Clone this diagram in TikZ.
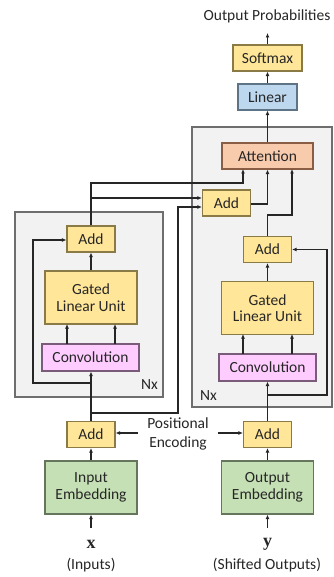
\documentclass[tikz,border=0pt]{standalone}
\usepackage{fontspec}
\setmainfont{Carlito}
\newfontfamily\serifb{Liberation Serif}
\usetikzlibrary{arrows.meta}
\definecolor{addfill}{HTML}{FFE699}
\definecolor{addline}{HTML}{8A7A45}
\definecolor{convfill}{HTML}{FFCCFF}
\definecolor{convline}{HTML}{7A5C7A}
\definecolor{embfill}{HTML}{C5E0B4}
\definecolor{embline}{HTML}{66765C}
\definecolor{attfill}{HTML}{F8CBAD}
\definecolor{attline}{HTML}{8A5E45}
\definecolor{linfill}{HTML}{BDD7EE}
\definecolor{linline}{HTML}{5F7386}
\definecolor{stackfill}{HTML}{F2F2F2}
\definecolor{stackline}{HTML}{6E6E6E}
\definecolor{ink}{HTML}{262626}
\begin{document}
\begin{tikzpicture}[x=1pt,y=-1pt,
  font=\fontsize{15.5}{17.5}\selectfont, text=ink,
  blk/.style={draw, line width=1.1pt, inner sep=0pt, align=center},
  addbox/.style={blk, fill=addfill, draw=addline, minimum width=48pt, minimum height=26pt},
  glubox/.style={blk, fill=addfill, draw=addline, minimum width=92pt, minimum height=53pt},
  convbox/.style={blk, fill=convfill, draw=convline, minimum width=97pt, minimum height=27pt},
  embbox/.style={blk, fill=embfill, draw=embline, minimum width=92pt, minimum height=53pt},
  attbox/.style={blk, fill=attfill, draw=attline, minimum width=91pt, minimum height=26pt},
  stack/.style={fill=stackfill, draw=stackline, line width=1.1pt},
  wire/.style={draw=black!85, line width=1.2pt},
  arr/.style={wire, -{Latex[length=4.5pt,width=4pt]}}
]
\useasboundingbox (0,0) rectangle (333,577);

% repeated stacks (drawn first, wires pass over them)
\path[stack] (15,212) rectangle (163,397);
\path[stack] (192,127) rectangle (332,407);
\node[anchor=south east, inner sep=0pt] (nxe) at (158,390) {Nx};
\node[anchor=south west, inner sep=0pt] (nxd) at (200,401) {Nx};

% encoder side
\node[embbox] (inemb) at (91,487.5) {Input\\[-1pt]Embedding};
\node[addbox] (eadd0) at (91,434.5) {Add};
\node[convbox] (econv) at (90.5,357.5) {Convolution};
\node[glubox] (eglu) at (91,297.5) {Gated\\[-1pt]Linear Unit};
\node[addbox] (eadd) at (91,239) {Add};
\node[inner sep=0pt] (xlab) at (91,544) {\fontsize{18}{18}\selectfont\serifb\bfseries x};
\node[inner sep=0pt] (xcap) at (91,565) {(Inputs)};
\coordinate (xin) at (91,528);

% decoder side
\node[embbox] (outemb) at (267.5,487.5) {Output\\[-1pt]Embedding};
\node[addbox] (dadd0) at (267.5,434.5) {Add};
\node[convbox] (dconv) at (267.5,367.5) {Convolution};
\node[glubox] (dglu) at (267.5,308) {Gated\\[-1pt]Linear Unit};
\node[addbox] (dadd) at (267.5,249.5) {Add};
\node[addbox] (madd) at (226.5,203) {Add};
\node[attbox] (att) at (267.5,156) {Attention};
\node[blk, fill=linfill, draw=linline, minimum width=59pt, minimum height=26pt] (lin) at (267.5,97) {Linear};
\node[addbox, minimum width=69pt] (soft) at (267.5,58) {Softmax};
\node[inner sep=0pt] (outp) at (267,16) {Output Probabilities};
\coordinate (pout) at (267.5,33);
\node[inner sep=0pt] (ylab) at (267.5,544) {\fontsize{18}{18}\selectfont\serifb\bfseries y};
\node[inner sep=0pt] (ycap) at (267,565) {(Shifted Outputs)};
\coordinate (yin) at (267.5,528);

% positional encoding
\node[align=center, inner sep=0pt] (pos) at (178,434) {Positional\\[1pt]Encoding};
\coordinate (posl) at (138,433);
\coordinate (posr) at (218,433);

% encoder wiring
\draw[arr] (xin) -- (inemb.south);
\draw[arr] (inemb.north) -- (eadd0.south);
\draw[arr] (posl) -- (eadd0.east |- posl);
\draw[arr] (eadd0.north) -- (econv.south -| eadd0.north);
\draw[arr] (91,383) -- (33,383) -- (33,240) -- (eadd.west |- 0,240);
\draw[arr] (67,344) -- (67,324);
\draw[arr] (115,344) -- (115,324);
\draw[arr] (eglu.north) -- (eadd.south);
\draw[arr] (eadd.north) -- (91,183) -- (243,183) -- (243,169);
\draw[arr] (91,198) -- (madd.west |- 0,198);
\draw[arr] (91,413) -- (178,413) -- (178,207) -- (madd.west |- 0,207);

% decoder wiring
\draw[arr] (yin) -- (outemb.south);
\draw[arr] (outemb.north) -- (dadd0.south);
\draw[arr] (posr) -- (dadd0.west |- posr);
\draw[arr] (dadd0.north) -- (dconv.south);
\draw[arr] (267.5,395) -- (327,395) -- (327,249.5) -- (dadd.east);
\draw[arr] (243,354) -- (243,334);
\draw[arr] (292,354) -- (292,334);
\draw[arr] (dglu.north) -- (dadd.south);
\draw[arr] (dadd.north) -- (267.5,215) -- (292,215) -- (292,169);
\draw[arr] (madd.east |- 0,204) -- (267.5,204) -- (att.south);
\draw[arr] (att.north) -- (lin.south);
\draw[arr] (lin.north) -- (soft.south);
\draw[arr] (soft.north) -- (pout);
\end{tikzpicture}
\end{document}
